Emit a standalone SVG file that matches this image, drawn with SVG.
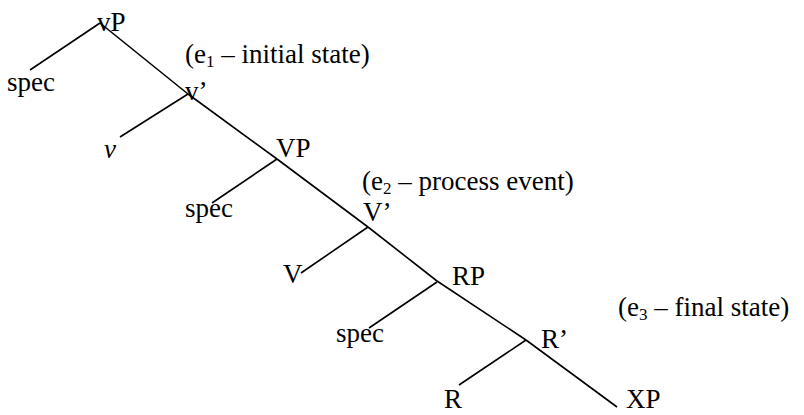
<svg xmlns="http://www.w3.org/2000/svg" width="804" height="415" viewBox="0 0 804 415">
<style>
text{font-family:"Liberation Serif","Times New Roman",serif;font-size:27px;fill:#000}
.sub{font-size:17px}
.e{font-style:italic}
line{stroke:#000;stroke-width:1.6}
</style>
<rect width="804" height="415" fill="#fff"/>
<g id="connectors">
<line x1="100" y1="23" x2="188" y2="94"/>
<line x1="188" y1="94" x2="277" y2="159"/>
<line x1="277" y1="159" x2="368" y2="227"/>
<line x1="368" y1="227" x2="437" y2="281"/>
<line x1="437" y1="281" x2="526" y2="340"/>
<line x1="526" y1="340" x2="617" y2="407"/>
<line x1="100" y1="23" x2="30" y2="70"/>
<line x1="188" y1="94" x2="120" y2="137"/>
<line x1="277" y1="159" x2="212" y2="203"/>
<line x1="368" y1="227" x2="301" y2="273"/>
<line x1="437" y1="282" x2="369" y2="328"/>
<line x1="526" y1="340" x2="459" y2="385"/>
</g>
<g id="vP"><text x="97" y="31">vP</text></g>
<g id="e1"><text x="185" y="63">(e<tspan class="sub" dy="4">1</tspan><tspan dy="-4"> – initial state)</tspan></text></g>
<g id="spec1"><text x="7" y="91">spec</text></g>
<g id="vbar"><text x="185" y="100">v’</text></g>
<g id="v"><text class="e" x="104" y="158">v</text></g>
<g id="VP"><text x="276" y="157">VP</text></g>
<g id="e2"><text x="362" y="190">(e<tspan class="sub" dy="4">2</tspan><tspan dy="-4"> – process event)</tspan></text></g>
<g id="spec2"><text x="185" y="217">spec</text></g>
<g id="Vbar"><text x="363" y="221">V’</text></g>
<g id="V"><text x="283" y="283">V</text></g>
<g id="RP"><text x="452" y="285">RP</text></g>
<g id="e3"><text x="618" y="316">(e<tspan class="sub" dy="4">3</tspan><tspan dy="-4"> – final state)</tspan></text></g>
<g id="spec3"><text x="336" y="342">spec</text></g>
<g id="Rbar"><text x="541" y="348">R’</text></g>
<g id="R"><text x="444" y="408">R</text></g>
<g id="XP"><text x="626" y="408">XP</text></g>
</svg>
